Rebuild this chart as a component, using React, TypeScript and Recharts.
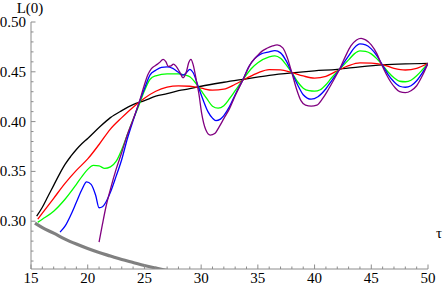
import React from "react";
import { LineChart, Line, XAxis, YAxis } from "recharts";

const xTicks = [15,16,17,18,19,20,21,22,23,24,25,26,27,28,29,30,31,32,33,34,35,36,37,38,39,40,41,42,43,44,45,46,47,48,49,50];
const yTicks = [0.26,0.27,0.28,0.29,0.30,0.31,0.32,0.33,0.34,0.35,0.36,0.37,0.38,0.39,0.40,0.41,0.42,0.43,0.44,0.45,0.46,0.47,0.48,0.49,0.50];

const grayTau = [15.35, 16, 17, 18, 19, 20, 21, 22, 23, 24, 25, 26, 27, 28, 29];
const grayL = [0.298, 0.2935, 0.288, 0.282, 0.277, 0.2725, 0.2685, 0.265, 0.2615, 0.2585, 0.2555, 0.253, 0.2505, 0.248, 0.2455];

const blackTau = [15.5, 16, 16.5, 17, 17.5, 18, 18.5, 19, 19.5, 20, 21, 22, 23, 24, 25, 26, 27, 28, 29, 30, 32, 34, 36, 38, 40, 42, 44, 46, 48, 50];
const blackL = [0.305, 0.314, 0.325, 0.336, 0.347, 0.357, 0.365, 0.372, 0.378, 0.383, 0.394, 0.404, 0.411, 0.417, 0.421, 0.4255, 0.428, 0.431, 0.433, 0.4355, 0.4395, 0.443, 0.4465, 0.449, 0.451, 0.4525, 0.455, 0.457, 0.458, 0.4585];

const redTau = [15.6, 16, 17, 18, 19, 20, 21, 22, 23, 24, 25, 26, 27, 28, 29, 30, 31, 32, 33, 34, 35, 36, 37, 38, 39, 40, 41, 42, 43, 44, 45, 46, 47, 48, 49, 50];
const redL = [0.302, 0.308, 0.323, 0.338, 0.351, 0.3625, 0.377, 0.3925, 0.404, 0.4145, 0.4235, 0.4305, 0.4345, 0.4358, 0.4355, 0.4335, 0.4315, 0.4325, 0.4375, 0.4435, 0.449, 0.4522, 0.452, 0.4492, 0.4458, 0.4437, 0.4455, 0.451, 0.4562, 0.459, 0.4588, 0.4572, 0.4535, 0.4518, 0.4535, 0.4585];

const greenTau = [15.6, 16, 17, 18, 19, 19.5, 20, 20.5, 21, 21.5, 22, 22.5, 23, 23.5, 24, 24.5, 25, 25.5, 26, 27, 28, 28.5, 29, 29.5, 30, 30.5, 31, 31.5, 32, 32.5, 33, 33.7, 34.5, 35, 36, 36.5, 37, 37.5, 38, 38.5, 39, 39.5, 40, 40.5, 41, 41.5, 42.2, 43, 43.5, 44, 44.5, 45, 45.5, 46, 46.5, 47, 47.5, 48, 48.5, 49, 49.5, 50];
const greenL = [0.299, 0.302, 0.310, 0.322, 0.337, 0.345, 0.352, 0.356, 0.3555, 0.353, 0.3545, 0.360, 0.372, 0.387, 0.402, 0.416, 0.431, 0.4425, 0.446, 0.448, 0.448, 0.447, 0.445, 0.439, 0.431, 0.423, 0.4155, 0.4135, 0.416, 0.423, 0.431, 0.4424, 0.454, 0.459, 0.465, 0.466, 0.4635, 0.457, 0.449, 0.440, 0.4335, 0.431, 0.4305, 0.432, 0.437, 0.444, 0.4525, 0.462, 0.468, 0.471, 0.4705, 0.468, 0.463, 0.4565, 0.4495, 0.444, 0.4405, 0.440, 0.4415, 0.446, 0.452, 0.4585];

const blueTau = [17.56, 18, 18.5, 19, 19.5, 19.9, 20.3, 20.7, 21, 21.3, 21.6, 22, 22.5, 23, 23.5, 24, 24.5, 25, 25.5, 26, 26.5, 27, 27.5, 28, 28.4, 28.7, 29, 29.3, 29.75, 30.2, 30.6, 31, 31.3, 31.7, 32, 32.5, 33, 33.7, 34.2, 34.7, 35.2, 36, 36.5, 37, 37.5, 38, 38.5, 39, 39.7, 40.3, 41, 41.5, 42.2, 43, 43.5, 44, 44.5, 45, 45.5, 46, 46.5, 47, 47.5, 48, 48.5, 49, 49.5, 50];
const blueL = [0.289, 0.295, 0.306, 0.319, 0.332, 0.3395, 0.337, 0.326, 0.3135, 0.3145, 0.319, 0.329, 0.345, 0.362, 0.383, 0.401, 0.418, 0.433, 0.447, 0.4515, 0.4545, 0.455, 0.4535, 0.4495, 0.4467, 0.449, 0.4525, 0.449, 0.435, 0.421, 0.410, 0.4035, 0.401, 0.4025, 0.406, 0.415, 0.427, 0.4424, 0.455, 0.463, 0.4675, 0.470, 0.4712, 0.469, 0.461, 0.449, 0.437, 0.427, 0.4225, 0.425, 0.433, 0.441, 0.4525, 0.466, 0.474, 0.478, 0.477, 0.473, 0.466, 0.4565, 0.447, 0.440, 0.4355, 0.4345, 0.436, 0.441, 0.449, 0.4585];

const purpleTau = [21.0, 21.3, 21.6, 22, 22.5, 23, 23.5, 24, 24.5, 25, 25.3, 25.6, 26, 26.3, 26.65, 26.9, 27.1, 27.35, 27.55, 27.8, 28.1, 28.4, 28.7, 28.9, 29.1, 29.3, 29.6, 29.8, 30.05, 30.4, 30.8, 31.2, 31.6, 32, 32.5, 33, 33.7, 34.3, 34.9, 35.4, 35.8, 36.3, 36.7, 37.2, 37.6, 38, 38.4, 38.8, 39.2, 39.7, 40.2, 40.7, 41.2, 41.7, 42.2, 42.7, 43.2, 43.7, 44.1, 44.5, 45, 45.5, 45.9, 46.3, 46.7, 47.1, 47.5, 48, 48.5, 49, 49.5, 50];
const purpleL = [0.279, 0.297, 0.314, 0.332, 0.352, 0.369, 0.387, 0.402, 0.418, 0.437, 0.447, 0.453, 0.4565, 0.459, 0.4625, 0.460, 0.4555, 0.456, 0.4578, 0.4555, 0.450, 0.444, 0.450, 0.459, 0.4625, 0.457, 0.440, 0.428, 0.408, 0.392, 0.3864, 0.388, 0.395, 0.403, 0.413, 0.426, 0.4424, 0.457, 0.4655, 0.471, 0.4736, 0.476, 0.477, 0.474, 0.464, 0.449, 0.433, 0.421, 0.4165, 0.4155, 0.4165, 0.423, 0.432, 0.442, 0.4525, 0.465, 0.476, 0.482, 0.4836, 0.482, 0.477, 0.468, 0.4575, 0.448, 0.440, 0.434, 0.430, 0.429, 0.431, 0.436, 0.446, 0.4585];

const toData = (t: number[], l: number[]) => t.map((tau, i) => ({ tau, L: l[i] }));

const axisColor = "#8c8c8c";
const font = "'Liberation Serif', 'Times New Roman', serif";

const YTick = (props: any) => {
  const { x, y, payload } = props;
  const v = payload.value as number;
  const major = Math.abs(v * 20 - Math.round(v * 20)) < 1e-6;
  return (
    <g>
      <line x1={x} x2={x + (major ? 4.5 : 2.5)} y1={y} y2={y} stroke={axisColor} strokeWidth={1} />
      {major && (
        <text x={x - 5} y={y + 5} textAnchor="end" fontFamily={font} fontSize={15} fill="#000">
          {v.toFixed(2)}
        </text>
      )}
    </g>
  );
};

const XTick = (props: any) => {
  const { x, y, payload } = props;
  const v = payload.value as number;
  const major = v % 5 === 0;
  return (
    <g>
      <line x1={x} x2={x} y1={y} y2={y - (major ? 4.5 : 2.5)} stroke={axisColor} strokeWidth={1} />
      {major && (
        <text x={x} y={y + 14} textAnchor="middle" fontFamily={font} fontSize={15} fill="#000">
          {v}
        </text>
      )}
    </g>
  );
};

export default function App() {
  return (
    <div style={{ position: "absolute", left: 0, top: 0, width: 445, height: 288, background: "#fff" }}>
      <LineChart width={445} height={288} margin={{ top: 22, right: 17, left: 0, bottom: 0 }}>
        <XAxis
          type="number"
          dataKey="tau"
          domain={[15, 50]}
          ticks={xTicks}
          interval={0}
          allowDataOverflow
          height={19}
          tickSize={0}
          tickMargin={0}
          tickLine={false}
          axisLine={{ stroke: axisColor }}
          tick={<XTick />}
        />
        <YAxis
          type="number"
          domain={[0.252, 0.5]}
          ticks={yTicks}
          interval={0}
          allowDataOverflow
          width={31}
          tickSize={0}
          tickMargin={0}
          tickLine={false}
          axisLine={{ stroke: axisColor }}
          tick={<YTick />}
        />
        <Line data={toData(grayTau, grayL)} dataKey="L" type="monotone" stroke="#808080" strokeWidth={3.2} dot={false} isAnimationActive={false} />
        <Line data={toData(blackTau, blackL)} dataKey="L" type="monotone" stroke="#000000" strokeWidth={1.3} dot={false} isAnimationActive={false} />
        <Line data={toData(redTau, redL)} dataKey="L" type="monotone" stroke="#ff0000" strokeWidth={1.3} dot={false} isAnimationActive={false} />
        <Line data={toData(greenTau, greenL)} dataKey="L" type="monotone" stroke="#00ff00" strokeWidth={1.3} dot={false} isAnimationActive={false} />
        <Line data={toData(blueTau, blueL)} dataKey="L" type="monotone" stroke="#0000ff" strokeWidth={1.3} dot={false} isAnimationActive={false} />
        <Line data={toData(purpleTau, purpleL)} dataKey="L" type="monotone" stroke="#800080" strokeWidth={1.3} dot={false} isAnimationActive={false} />
        <text x={30} y={13} textAnchor="middle" fontFamily={font} fontSize={15} fill="#000">L(0)</text>
        <text x={436} y={238} fontFamily={font} fontSize={15} fill="#000">τ</text>
      </LineChart>
    </div>
  );
}
